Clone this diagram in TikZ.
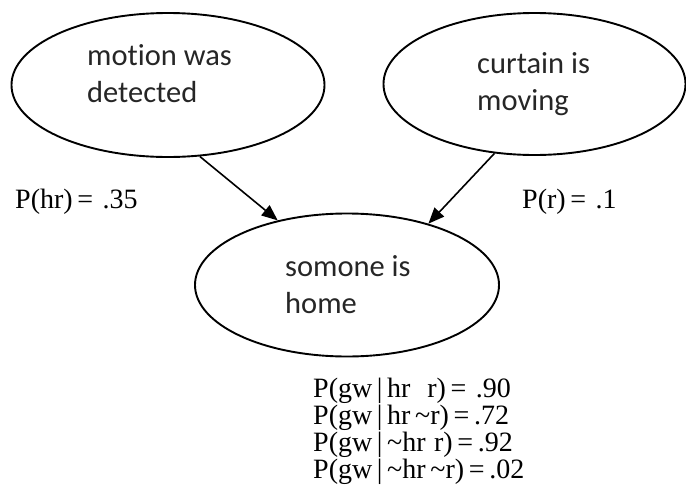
\documentclass[tikz,border=0pt]{standalone}
\usepackage{fontspec}
\setmainfont{Liberation Serif}
\newfontfamily\calib[Ligatures=NoCommon]{Carlito}
\usetikzlibrary{shapes.geometric,arrows.meta}

\tikzset{
  blob/.style={ellipse,draw,line width=1.9pt,inner sep=0pt},
  blobtext/.style={anchor=base west,inner sep=0pt,align=left,
    font=\calib\fontsize{30.5}{37}\selectfont,text=black!85},
  prob/.style={anchor=base west,inner sep=0pt,align=left,
    font=\fontsize{28}{27}\selectfont},
  link/.style={line width=1.6pt,-{Triangle[length=16pt,width=13pt]}}
}

\begin{document}
\begin{tikzpicture}[x=1pt,y=-1pt]
  \useasboundingbox (0,0) rectangle (686,493);

  % the three variables
  \node[blob,minimum width=313pt,minimum height=144pt] (motion) at (168,85) {};
  \node[blob,minimum width=302pt,minimum height=142pt] (curtain) at (534.5,84) {};
  \node[blob,minimum width=304pt,minimum height=143pt] (home) at (347,285) {};

  % base is the last line here
  \node[blobtext] (motiontxt) at (87,102) {motion was\\detected};
  \node[blobtext] (curtaintxt) at (477,110) {curtain is\\moving};
  \node[blobtext] (hometxt) at (285,313) {somone is\\home};

  % edges
  \draw[link] (motion.-66) -- (home.137);
  \draw[link] (curtain.-120) -- (home.37);

  % priors and table
  \node[prob] (phr) at (15,208) {P(hr)\,=\,\,.35};
  \node[prob] (pr) at (522,208) {P(r)\,=\,\,.1};
  \node[prob] (cpt) at (313,478) {%
    P(gw\,|\,hr\hspace{0.6em}r)\,=\,\,.90\\
    P(gw\,|\,hr\,\textasciitilde r)\,=\,.72\\
    P(gw\,|\,\textasciitilde hr\hspace{0.3em}r)\,=\,.92\\
    P(gw\,|\,\textasciitilde hr\,\textasciitilde r)\,=\,.02};
\end{tikzpicture}
\end{document}
